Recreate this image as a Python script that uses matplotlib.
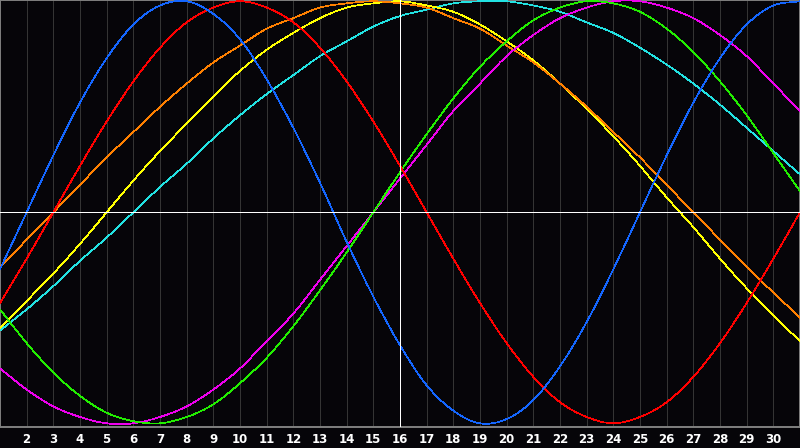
import numpy as np
import matplotlib.pyplot as plt
from matplotlib.path import Path
from matplotlib.patches import PathPatch

days = list(range(1, 32))

# cycle values in percent, one per day
physical = [-27, 0, 27, 52, 73, 89, 98, 100, 94, 82, 63, 40, 14, -14, -40, -63,
            -82, -94, -100, -98, -89, -73, -52, -27, 0, 27, 52, 73, 89, 98, 100]
emotional = [-43, -22, 0, 22, 43, 62, 78, 90, 97, 100, 97, 90, 78, 62, 43, 22,
             0, -22, -43, -62, -78, -90, -97, -100, -97, -90, -78, -62, -43, -22, 0]
intellectual = [-46, -62, -76, -87, -95, -99, -100, -97, -91, -81, -69, -54, -37, -19, 0, 19,
                37, 54, 69, 81, 91, 97, 100, 99, 95, 87, 76, 62, 46, 28, 10]
intuitive = [-74, -84, -92, -97, -100, -100, -97, -92, -84, -74, -61, -48, -32, -16, 0, 16,
             32, 48, 61, 74, 84, 92, 97, 100, 100, 97, 92, 84, 74, 61, 48]
aesthetic = [-55, -42, -29, -15, 0, 15, 29, 42, 55, 67, 77, 85, 92, 97, 99, 100,
             98, 95, 89, 81, 72, 61, 49, 36, 22, 7, -7, -22, -36, -49, -61]
awareness = [-26, -13, 0, 13, 26, 38, 50, 61, 71, 79, 87, 92, 97, 99, 100, 99,
             97, 92, 87, 79, 71, 61, 50, 38, 26, 13, 0, -13, -26, -38, -50]
spiritual = [-56, -46, -35, -23, -12, 0, 12, 23, 35, 46, 56, 65, 74, 81, 88, 93,
             96, 99, 100, 100, 98, 95, 90, 85, 78, 70, 61, 51, 40, 29, 18]

tick_days = list(range(2, 31))
today = 16


def smooth_path(xs, ys):
    # catmull-rom through the daily points, drawn as cubic bezier segments
    p = np.column_stack([xs, ys]).astype(float)
    ext = np.vstack([2 * p[0] - p[1], p, 2 * p[-1] - p[-2]])
    verts = [p[0]]
    codes = [Path.MOVETO]
    for i in range(1, len(ext) - 2):
        c1 = ext[i] + (ext[i + 1] - ext[i - 1]) / 6
        c2 = ext[i + 1] - (ext[i + 2] - ext[i]) / 6
        verts += [c1, c2, ext[i + 1]]
        codes += [Path.CURVE4] * 3
    return Path(verts, codes)


bg = "#060509"
fig = plt.figure(figsize=(8, 4.48), dpi=100, facecolor=bg)
ax = fig.add_axes([0, 21 / 448, 1, 427 / 448], facecolor=bg)

for d in tick_days:
    if d != today:
        ax.axvline(d, color="#343434", lw=0.7, antialiased=False, zorder=1)
ax.axvline(today, color="white", lw=0.7, antialiased=False, zorder=5)
ax.axhline(0, color="white", lw=0.7, antialiased=False, zorder=5)

series = [
    (spiritual, "#22e2e2"),
    (aesthetic, "#ffff00"),
    (awareness, "#ff8000"),
    (intuitive, "#ee00ee"),
    (intellectual, "#22ee00"),
    (emotional, "#ff0000"),
    (physical, "#1466ff"),
]
for vals, col in series:
    ax.add_patch(PathPatch(smooth_path(days, vals), fill=False, edgecolor=col,
                           lw=0.5, antialiased=False, zorder=3))

ax.set_xlim(1, 31)
ax.set_ylim(-101.75, 100.6)
ax.set_yticks([])
ax.set_xticks(tick_days)
ax.set_xticklabels([str(d) for d in tick_days], color="white",
                   fontsize=8.5, fontweight="bold")
ax.tick_params(axis="x", length=0, pad=4.5)
for s in ax.spines.values():
    s.set_color("#808080")
    s.set_linewidth(1.4)

fig.savefig("out.png", dpi=100, facecolor=bg)
